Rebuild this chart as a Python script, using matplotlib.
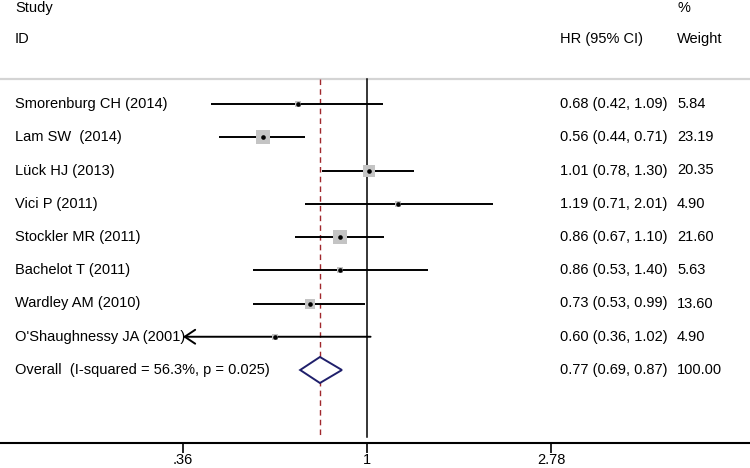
import numpy as np
import matplotlib
matplotlib.use("Agg")
import matplotlib.pyplot as plt

plt.rcParams['font.family'] = ['Liberation Sans', 'DejaVu Sans']

studies = ["Smorenburg CH (2014)", "Lam SW  (2014)", "Lück HJ (2013)", "Vici P (2011)",
           "Stockler MR (2011)", "Bachelot T (2011)", "Wardley AM (2010)",
           "O'Shaughnessy JA (2001)"]
hr = [0.68, 0.56, 1.01, 1.19, 0.86, 0.86, 0.73, 0.60]
lo = [0.42, 0.44, 0.78, 0.71, 0.67, 0.53, 0.53, 0.36]
hi = [1.09, 0.71, 1.30, 2.01, 1.10, 1.40, 0.99, 1.02]
weight = [5.84, 23.19, 20.35, 4.90, 21.60, 5.63, 13.60, 4.90]

overall_label = "Overall  (I-squared = 56.3%, p = 0.025)"
overall_hr, overall_lo, overall_hi, overall_w = 0.77, 0.69, 0.87, 100.00
xticks = [0.36, 1, 2.78]
xticklabels = [".36", "1", "2.78"]

W, H = 750, 468
fig = plt.figure(figsize=(7.5, 4.68), dpi=100)
ax = fig.add_axes([0, (H - 443) / H, 1, 443 / H])
ax.set_xscale('log')

# pixel mapping: 1 -> 367px, ~180 px per ln unit
ppl = 180.1
ax.set_xlim(np.exp(-367 / ppl), np.exp((W - 367) / ppl))
row_h = 33.25
ax.set_ylim((443 - 104) / row_h, -104 / row_h)

for s in ['top', 'left', 'right']:
    ax.spines[s].set_visible(False)
ax.spines['bottom'].set_linewidth(1.5)
ax.set_yticks([])
ax.set_xticks(xticks)
ax.set_xticklabels(xticklabels, fontsize=10.5)
ax.xaxis.set_minor_locator(matplotlib.ticker.NullLocator())
ax.tick_params(axis='x', length=7, width=1.2, pad=0.5)

y_top = (79 - 104) / row_h
y_bot = (437 - 104) / row_h
ax.axhline(y_top, color='#d4d4d4', lw=1.6)
ax.plot([1, 1], [y_top, y_bot], color='black', lw=1.1)
ax.plot([overall_hr, overall_hr], [y_top, y_bot], color='#a0282d', lw=1.0,
        ls=(0, (4, 3)))

tf = ax.get_yaxis_transform()
fs = 10.5
x_left = 15 / W
x_hr = 560 / W
x_w = 677 / W
for i, name in enumerate(studies):
    if lo[i] <= 0.36:
        ax.annotate('', xy=(lo[i], i), xytext=(hi[i], i),
                    arrowprops=dict(arrowstyle='->,head_length=0.75,head_width=0.5',
                                    lw=1.4, color='black', shrinkA=0, shrinkB=0))
    else:
        ax.plot([lo[i], hi[i]], [i, i], color='black', lw=1.4, solid_capstyle='butt')
    side = 2.8 * np.sqrt(weight[i]) * 0.72
    ax.scatter([hr[i]], [i], marker='s', s=side ** 2, color='#c4c4c4', zorder=3,
               linewidths=0)
    ax.scatter([hr[i]], [i], marker='o', s=11, color='black', zorder=4, linewidths=0)
    ax.text(x_left, i, name, transform=tf, fontsize=fs, va='center', ha='left')
    ax.text(x_hr, i, "%.2f (%.2f, %.2f)" % (hr[i], lo[i], hi[i]), transform=tf,
            fontsize=fs, va='center', ha='left')
    ax.text(x_w, i, "%.2f" % weight[i], transform=tf, fontsize=fs,
            va='center', ha='left')

yo = len(studies)
dh = 13 / row_h
ax.fill([overall_lo, overall_hr, overall_hi, overall_hr, overall_lo],
        [yo, yo - dh, yo, yo + dh, yo], facecolor='white', edgecolor='#1f1f6b',
        lw=1.4, zorder=5)
ax.text(x_left, yo, overall_label, transform=tf, fontsize=fs, va='center', ha='left')
ax.text(x_hr, yo, "%.2f (%.2f, %.2f)" % (overall_hr, overall_lo, overall_hi),
        transform=tf, fontsize=fs, va='center', ha='left')
ax.text(x_w, yo, "%.2f" % overall_w, transform=tf, fontsize=fs,
        va='center', ha='left')

# header
fig.text(x_left, 1 - 8 / H, "Study", fontsize=fs, va='center', ha='left')
fig.text(x_left, 1 - 39 / H, "ID", fontsize=fs, va='center', ha='left')
fig.text(x_hr, 1 - 39 / H, "HR (95% CI)", fontsize=fs, va='center', ha='left')
fig.text(x_w, 1 - 8 / H, "%", fontsize=fs, va='center', ha='left')
fig.text(x_w, 1 - 39 / H, "Weight", fontsize=fs, va='center', ha='left')

fig.savefig("out.png", dpi=100)
